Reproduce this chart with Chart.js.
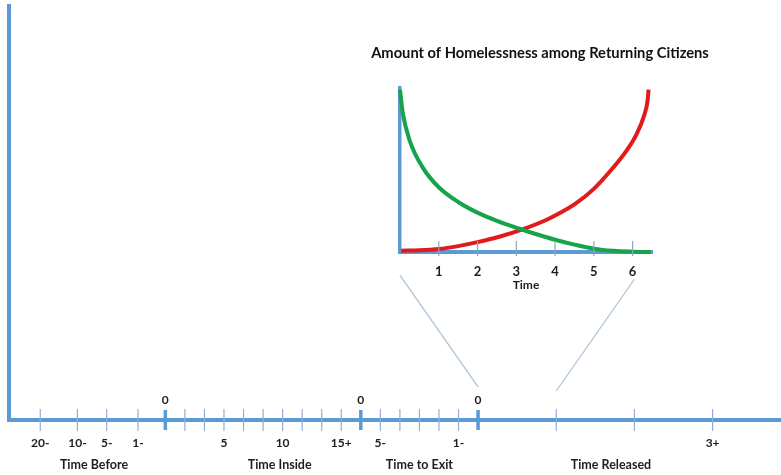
<!DOCTYPE html>
<html>
<head>
<meta charset="utf-8">
<script src="https://cdn.jsdelivr.net/npm/chart.js@4.4.1/dist/chart.umd.min.js"></script>
<style>
  body { margin: 0; background: #fff; }
  #wrap { position: relative; width: 781px; height: 475px; }
  #main { position: absolute; left: 0; top: 0; }
  #inset { position: absolute; left: 350px; top: 30px; }
</style>
</head>
<body>
<div id="wrap">
  <canvas id="main" width="781" height="475"></canvas>
  <canvas id="inset" width="380" height="270"></canvas>
</div>
<script>
// timeline: tick positions along the axis and their labels
const tickPos = [-6.4, -4.5, -3, -1.4, 0, 1, 2, 3, 4, 5, 6, 7, 8, 9, 10, 11, 12, 13, 14, 15, 16, 20, 24, 28];
const tickText = ["20-", "10-", "5-", "1-", "", "", "", "5", "", "", "10", "", "", "15+", "", "5-", "", "", "", "1-", "", "", "", "3+"];
const zeroPos = [0, 10, 16];
const segmentNames = ["Time Before", "Time Inside", "Time to Exit", "Time Released"];
const segmentCenters = [-3.65, 5.85, 13, 22.8];

// zoom lines from the timeline up to the inset
const zoomLeft = [{ x: 12, y: 35 }, { x: 16, y: 8 }];
const zoomRight = [{ x: 24, y: 34 }, { x: 20, y: 7 }];

// inset: homelessness curves
const insetTicks = [1, 2, 3, 4, 5, 6];
const greenX = [0, 0.07, 0.25, 0.6, 1, 1.5, 2, 2.5, 3, 3.5, 4, 4.5, 5, 5.5, 6, 6.47];
const greenY = [9.9, 8.5, 6.8, 5.1, 3.95, 3.05, 2.4, 1.9, 1.48, 1.1, 0.75, 0.45, 0.2, 0.07, 0.02, 0];
const redX = [0.03, 0.5, 1, 1.5, 2, 2.56, 3.16, 3.77, 4.11, 4.5, 5, 5.5, 5.83, 6.09, 6.3, 6.39, 6.41];
const redY = [0.08, 0.1, 0.18, 0.36, 0.6, 0.93, 1.38, 1.95, 2.36, 2.9, 3.85, 5.15, 6.14, 7.13, 8.35, 9.3, 9.9];

const FONT = "Lato";
const BLUE = "#5b9bd5";
const TEXT = "#1e1e1e";

const zeroLabels = {
  id: "zeroLabels",
  afterDatasetsDraw(chart) {
    const { ctx, scales: { x, y } } = chart;
    ctx.save();
    ctx.font = "bold 12px " + FONT;
    ctx.fillStyle = TEXT;
    ctx.textAlign = "center";
    ctx.textBaseline = "middle";
    zeroPos.forEach(v => ctx.fillText("0", x.getPixelForValue(v), y.getPixelForValue(0) - 20));
    ctx.restore();
  }
};

const isZero = ctx => zeroPos.includes(tickPos[ctx.dataIndex]);

new Chart(document.getElementById("main"), {
  type: "scatter",
  data: {
    datasets: [
      {
        data: tickPos.map(x => ({ x, y: 0 })),
        pointStyle: "line",
        rotation: 90,
        pointRadius: ctx => isZero(ctx) ? 10 : 11,
        pointBorderWidth: ctx => isZero(ctx) ? 3.5 : 1.2,
        pointBorderColor: ctx => isZero(ctx) ? BLUE : "#8fb0d6",
        clip: false
      },
      { data: zoomLeft, showLine: true, borderColor: "#a6c0d8", borderWidth: 1.2, pointRadius: 0, clip: false },
      { data: zoomRight, showLine: true, borderColor: "#a6c0d8", borderWidth: 1.2, pointRadius: 0, clip: false }
    ]
  },
  options: {
    responsive: false,
    animation: false,
    events: [],
    layout: { autoPadding: false, padding: { left: 9, top: 6, right: 0, bottom: 0 } },
    plugins: { legend: { display: false }, tooltip: { enabled: false } },
    scales: {
      x: {
        type: "linear", position: "bottom", weight: 0, min: -8, max: 31.5,
        grid: { display: false, drawTicks: false },
        border: { color: BLUE, width: 4 },
        ticks: {
          autoSkip: false, maxRotation: 0, padding: 16, color: TEXT,
          font: { family: FONT, size: 12, weight: "bold" },
          callback: (v, i) => tickText[i]
        },
        afterBuildTicks: s => { s.ticks = tickPos.map(value => ({ value })); },
        afterFit: s => { s.height = 31; }
      },
      x2: {
        type: "linear", position: "bottom", weight: 1, min: -8, max: 31.5,
        grid: { display: false, drawTicks: false },
        border: { display: false },
        ticks: {
          autoSkip: false, maxRotation: 0, padding: 6, color: TEXT,
          font: { family: FONT, size: 12.5, weight: "bold" },
          callback: (v, i) => segmentNames[i]
        },
        afterBuildTicks: s => { s.ticks = segmentCenters.map(value => ({ value })); },
        afterFit: s => { s.height = 24; }
      },
      y: {
        type: "linear", position: "left", min: 0, max: 100,
        grid: { display: false, drawTicks: false },
        border: { color: BLUE, width: 4 },
        ticks: { display: false },
        afterFit: s => { s.width = 0; }
      }
    }
  },
  plugins: [zeroLabels]
});

new Chart(document.getElementById("inset"), {
  type: "scatter",
  data: {
    datasets: [
      {
        data: insetTicks.map(x => ({ x, y: 0.21 })),
        pointStyle: "line", rotation: 90, pointRadius: 7.5,
        pointBorderWidth: 1.2, pointBorderColor: "#8aa6c4", clip: false
      },
      {
        data: greenX.map((x, i) => ({ x, y: greenY[i] })),
        showLine: true, borderColor: "#16a34c", borderWidth: 4,
        pointRadius: 0, cubicInterpolationMode: "monotone", clip: false
      },
      {
        data: redX.map((x, i) => ({ x, y: redY[i] })),
        showLine: true, borderColor: "#e11b1b", borderWidth: 4,
        pointRadius: 0, cubicInterpolationMode: "monotone", clip: false
      }
    ]
  },
  options: {
    responsive: false,
    animation: false,
    events: [],
    layout: { autoPadding: false, padding: 0 },
    plugins: {
      legend: { display: false },
      tooltip: { enabled: false },
      title: {
        display: true,
        text: "Amount of Homelessness among Returning Citizens",
        color: "#111",
        font: { family: FONT, size: 14.7, weight: "bold" },
        padding: { top: 14.2, bottom: 26.2 }
      }
    },
    scales: {
      x: {
        type: "linear", min: 0, max: 6.5,
        grid: { display: false, drawTicks: false },
        border: { color: BLUE, width: 4 },
        ticks: {
          padding: 12, color: TEXT,
          font: { family: FONT, size: 13, weight: "bold" }
        },
        afterBuildTicks: s => { s.ticks = insetTicks.map(value => ({ value })); },
        title: {
          display: true, text: "Time", color: TEXT,
          font: { family: FONT, size: 12, weight: "bold" },
          padding: { top: 0, bottom: 8 }
        },
        afterFit: s => { s.height = 48; }
      },
      y: {
        type: "linear", position: "left", min: 0, max: 10,
        grid: { display: false, drawTicks: false },
        border: { color: BLUE, width: 3.5 },
        ticks: { display: false },
        afterFit: s => { s.width = 50; }
      },
      yR: {
        type: "linear", position: "right",
        grid: { display: false, drawTicks: false },
        border: { display: false },
        ticks: { display: false },
        afterFit: s => { s.width = 78; }
      }
    }
  }
});
</script>
</body>
</html>
